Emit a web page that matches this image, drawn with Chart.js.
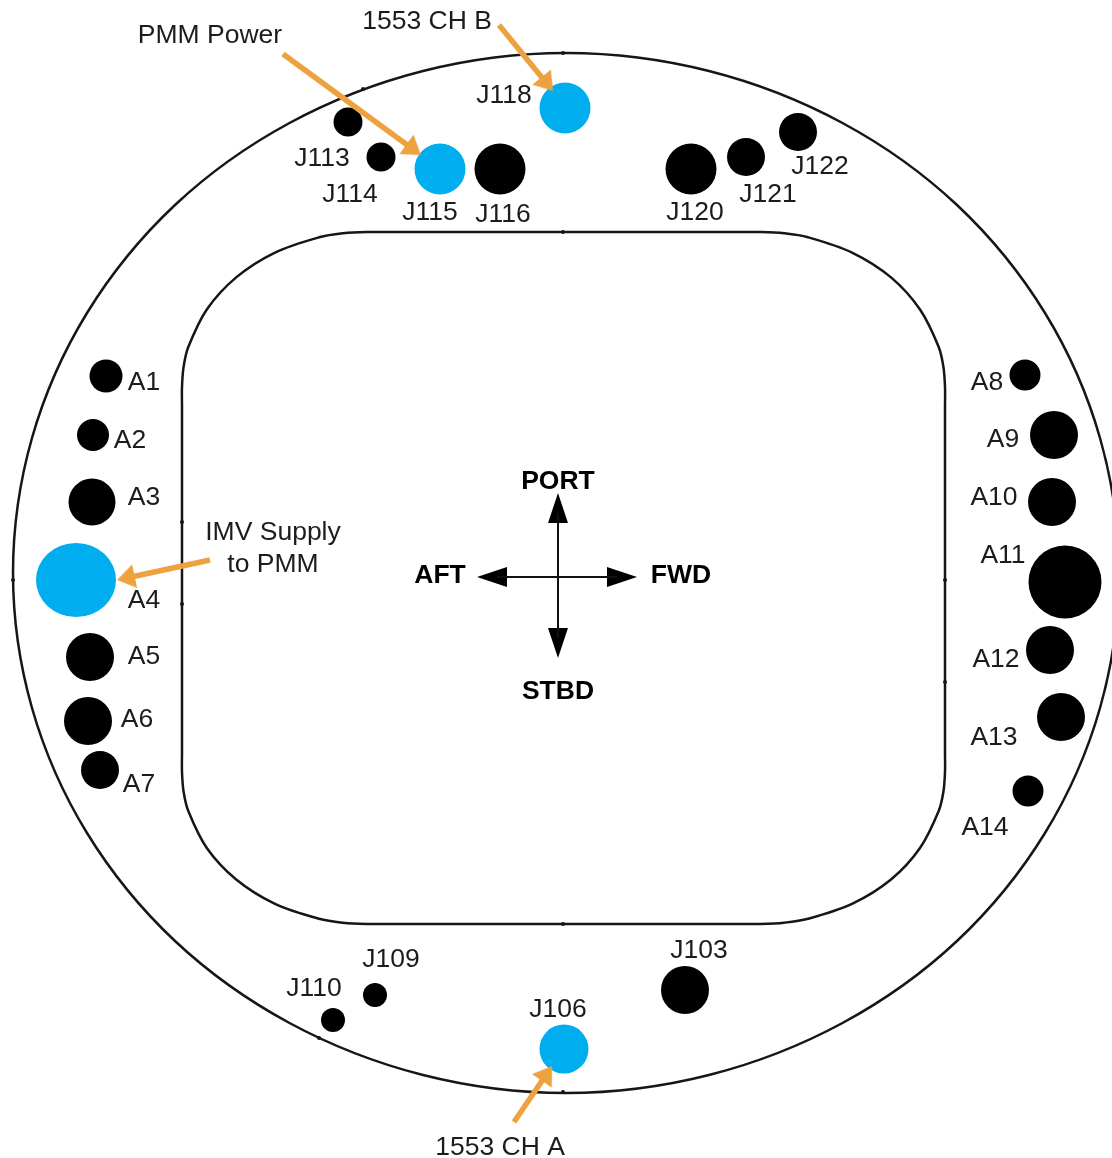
<!DOCTYPE html>
<html>
<head>
<meta charset="utf-8">
<style>html,body{margin:0;padding:0;background:#fff}canvas{display:block}</style>
<script src="https://cdn.jsdelivr.net/npm/chart.js@4"></script>
</head>
<body>
<canvas id="c" width="1112" height="1158"></canvas>
<script>
// Connector positions [x, y, radius]
const blackConnectors = [
  [348,122,14.5],[381,157,14.5],[500,169,25.5],[691,169,25.5],[746,157,19],[798,132,19],
  [106,376,16.5],[93,435,16],[92,502,23.5],[90,657,24],[88,721,24],[100,770,19],
  [1025,375,15.5],[1054,435,24],[1052,502,24],[1065,582,36.5],[1050,650,24],[1061,717,24],[1028,791,15.5],
  [685,990,24],[375,995,12],[333,1020,12]
];
const blueConnectors = [[440,169,25.5],[565,108,25.5],[564,1049,24.5]];
const blueOval = [[76,580]];

// First and last segments of each ring are hidden; they only set the curve's direction at the closure
const outerRing = [[423,71],[566,53],[709,71],[842.5,123],[957,205],[1045,313],[1100,438],[1119,573],[1100,708],[1045,833],[957,941],[842.5,1023],[709,1075],[566,1093],[423,1075],[289.5,1023],[175,941],[87,833],[32,708],[13,573],[32,438],[87,313],[175,205],[289.5,123],[423,71],[566,53],[709,71]];
const innerRing = [[407,232],[450,232],[563,232],[680,232],[736,232],[760,232],[784.1,233.3],[808,237.3],[852.5,252.8],[891,277.4],[920,309.5],[938.7,347],[943.4,366.8],[945,387],[945,407],[945,580],[945,752],[945,772],[943.4,791.8],[938.7,811],[920,848],[891,879.5],[852.5,903.6],[808,918.8],[784.1,922.7],[760,924],[736,924],[563,924],[391,924],[367,924],[342.9,922.7],[319.1,918.8],[274.5,903.6],[236.2,879.5],[206.8,848],[188.3,811],[183.6,791.8],[182,772],[182,752],[182,580],[182,407],[182,387],[183.6,366.8],[188.3,347],[206.8,309.5],[236.2,277.4],[274.5,252.8],[319.1,237.3],[342.9,233.3],[367,232],[407,232],[450,232],[563,232]];
const ringTicks = [[563,53],[563,232],[563,924],[563,1092],[182,522],[182,604],[945,580],[945,682],[13,580],[363,89],[319,1038]];

const orangeArrows = [
  [[283,54],[421,155]],
  [[499,25],[553,91]],
  [[210,560],[117,580]],
  [[514,1122],[552,1066]]
];
const compassCentre = [558,577];
const compassTips = [[558,493],[558,658],[477,577],[637,577]];

const plainLabels = [
  ["PMM Power",210,36],["1553 CH B",427,22],["J118",504,96],["J113",322,159],["J114",350,195],
  ["J115",430,213],["J116",503,215],["J120",695,213],["J121",768,195],["J122",820,167],
  ["A1",144,383],["A2",130,441],["A3",144,498],["A4",144,601],["A5",144,657],["A6",137,720],["A7",139,785],
  ["IMV Supply",273,533],["to PMM",273,565],
  ["A8",987,383],["A9",1003,440],["A10",994,498],["A11",1003,556],["A12",996,660],["A13",994,738],["A14",985,828],
  ["J103",699,951],["J106",558,1010],["J109",391,960],["J110",314,989],["1553 CH A",500,1148]
];
const boldLabels = [["PORT",558,482],["AFT",440,576],["FWD",681,576],["STBD",558,692]];

const BLUE = '#00AEEF', ORANGE = '#EDA23F';

// Arrow-head sprite: tip sits at the sprite centre, so a point placed on the tip lines up
function headSprite(w, l, colour) {
  const c = document.createElement('canvas');
  c.width = Math.max(w, 2 * l); c.height = 2 * l;
  const g = c.getContext('2d'), m = c.width / 2;
  g.fillStyle = colour;
  g.beginPath(); g.moveTo(m, l); g.lineTo(m + w / 2, 2 * l); g.lineTo(m - w / 2, 2 * l); g.closePath(); g.fill();
  return c;
}
function ovalSprite(rx, ry, colour) {
  const c = document.createElement('canvas');
  c.width = 2 * rx; c.height = 2 * ry;
  const g = c.getContext('2d');
  g.fillStyle = colour;
  g.beginPath(); g.ellipse(rx, ry, rx, ry, 0, 0, 2 * Math.PI); g.fill();
  return c;
}
const xy = p => ({x: p[0], y: p[1]});
const bearing = (a, b) => Math.atan2(b[0] - a[0], a[1] - b[1]) * 180 / Math.PI;
function neck(a, b, back) {
  const d = Math.hypot(b[0] - a[0], b[1] - a[1]);
  return {x: b[0] - (b[0] - a[0]) / d * back, y: b[1] - (b[1] - a[1]) / d * back};
}
const RING = '#161616';
const outline = (pts, tension, width) => ({
  type:'scatter', showLine:true, data:pts.map(xy), borderColor:RING, borderWidth:width, tension,
  pointRadius:0, fill:false, order:5,
  segment:{borderColor: c => (c.p0DataIndex === 0 || c.p1DataIndex === pts.length - 1) ? 'rgba(0,0,0,0)' : RING}
});

const datasets = [
  outline(outerRing, 0.34, 2.5),
  outline(innerRing, 0.34, 2.5),
  {type:'scatter', data:ringTicks.map(xy), pointRadius:2, pointBackgroundColor:RING, pointBorderWidth:0, order:5},
  {type:'bubble', data:blackConnectors.map(p => ({x:p[0], y:p[1], r:p[2]})), backgroundColor:'#000', borderWidth:0, order:4},
  {type:'bubble', data:blueConnectors.map(p => ({x:p[0], y:p[1], r:p[2]})), backgroundColor:BLUE, borderWidth:0, order:4},
  {type:'scatter', data:blueOval.map(xy), pointStyle:ovalSprite(40,37,BLUE), pointRadius:1, order:4},
  ...compassTips.map(t => ({type:'scatter', showLine:true, data:[xy(compassCentre), neck(compassCentre,t,20)], borderColor:'#111', borderWidth:2, pointRadius:0, tension:0, order:3})),
  {type:'scatter', data:compassTips.map(xy), pointStyle:headSprite(20,30,'#000'), pointRadius:1, pointRotation:compassTips.map(t => bearing(compassCentre,t)), order:3},
  ...orangeArrows.map(a => ({type:'scatter', showLine:true, data:[xy(a[0]), neck(a[0],a[1],12)], borderColor:ORANGE, borderWidth:5.5, pointRadius:0, tension:0, order:2})),
  {type:'scatter', data:orangeArrows.map(a => xy(a[1])), pointStyle:headSprite(24,18,ORANGE), pointRadius:1, pointRotation:orangeArrows.map(a => bearing(a[0],a[1])), order:2}
];

const textPlugin = {
  id:'labels',
  afterDatasetsDraw(chart) {
    const g = chart.ctx, sx = chart.scales.x, sy = chart.scales.y;
    g.save();
    g.textAlign = 'center'; g.textBaseline = 'middle';
    g.fillStyle = '#1c1c1c';
    g.font = '26.5px "Liberation Sans", Arial, sans-serif';
    plainLabels.forEach(l => g.fillText(l[0], sx.getPixelForValue(l[1]), sy.getPixelForValue(l[2])));
    g.fillStyle = '#000';
    g.font = 'bold 26.5px "Liberation Sans", Arial, sans-serif';
    boldLabels.forEach(l => g.fillText(l[0], sx.getPixelForValue(l[1]), sy.getPixelForValue(l[2])));
    g.restore();
  }
};

new Chart(document.getElementById('c'), {
  type:'scatter',
  data:{datasets},
  plugins:[textPlugin],
  options:{
    responsive:false,
    animation:false,
    devicePixelRatio:1,
    layout:{padding:0, autoPadding:false},
    plugins:{legend:{display:false}, tooltip:{enabled:false}, title:{display:false}},
    scales:{
      x:{type:'linear', min:0, max:1112, display:false},
      y:{type:'linear', min:0, max:1158, reverse:true, display:false}
    }
  }
});
</script>
</body>
</html>
